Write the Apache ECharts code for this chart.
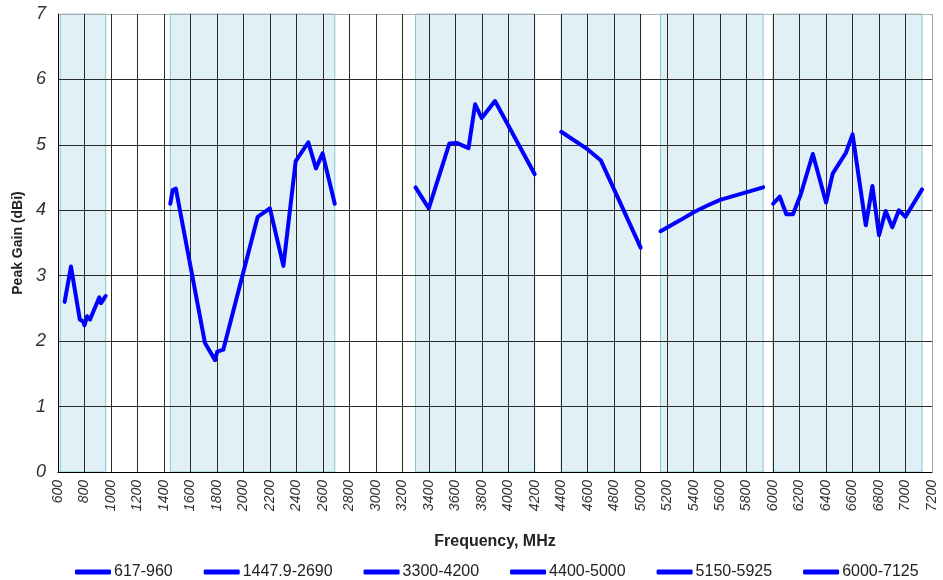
<!DOCTYPE html>
<html>
<head>
<meta charset="utf-8">
<script src="https://cdn.jsdelivr.net/npm/echarts@6/dist/echarts.min.js"></script>
<style>html,body{margin:0;padding:0;background:#fff}#c{width:943px;height:580px}</style>
</head>
<body>
<div id="c"></div>
<script>
// Band names (legend) and their frequency ranges (MHz)
var bandNames = ['617-960', '1447.9-2690', '3300-4200', '4400-5000', '5150-5925', '6000-7125'];
var bandRanges = [[617, 960], [1447.9, 2690], [3300, 4200], [4400, 5000], [5150, 5925], [6000, 7125]];

// Peak gain (dBi) per band, [frequency MHz, gain]
var band617 = [[650,2.6],[698,3.14],[765,2.33],[790,2.3],[800,2.24],[820,2.38],[842,2.33],[912,2.67],[925,2.58],[960,2.69]];
var band1448 = [[1448,4.1],[1466,4.31],[1490,4.33],[1710,1.97],[1786,1.71],[1803,1.84],[1848,1.87],[2108,3.9],[2200,4.03],[2302,3.15],[2395,4.75],[2490,5.04],[2548,4.64],[2598,4.87],[2690,4.1]];
var band3300 = [[3300,4.35],[3400,4.03],[3555,5.02],[3610,5.03],[3700,4.95],[3750,5.62],[3800,5.41],[3900,5.67],[4200,4.55]];
var band4400 = [[4400,5.2],[4600,4.93],[4700,4.76],[5000,3.43]];
var band5150 = [[5150,3.68],[5300,3.85],[5400,3.97],[5500,4.07],[5600,4.16],[5925,4.35]];
var band6000 = [[6000,4.1],[6050,4.21],[6100,3.94],[6150,3.94],[6210,4.25],[6300,4.86],[6400,4.12],[6450,4.56],[6550,4.88],[6600,5.16],[6700,3.77],[6750,4.37],[6800,3.62],[6850,3.99],[6900,3.74],[6950,4.0],[7000,3.9],[7125,4.32]];
var bandData = [band617, band1448, band3300, band4400, band5150, band6000];

var FONT = 'Liberation Sans, Arial, sans-serif';
var chart = echarts.init(document.getElementById('c'), null, {renderer: 'canvas'});

var xLineColors = [];
for (var i = 0; i < 34; i++) xLineColors.push(i === 33 ? '#a0a0a0' : '#2b2b2b');
var yLineColors = ['#2b2b2b','#2b2b2b','#2b2b2b','#2b2b2b','#2b2b2b','#2b2b2b','#2b2b2b','#b0b0b0'];

var series = [{
  type: 'line', data: [], z: -1, silent: true,
  markArea: {
    silent: true, z: -1,
    itemStyle: {color: '#e1f0f5', borderColor: '#86c6d6', borderWidth: 1},
    data: bandRanges.map(function (r) { return [{xAxis: r[0]}, {xAxis: r[1]}]; })
  }
}];
bandNames.forEach(function (n, i) {
  series.push({
    name: n, type: 'line', data: bandData[i], showSymbol: false, symbol: 'none',
    lineStyle: {color: '#0000ff', width: 4, cap: 'round', join: 'round'},
    itemStyle: {color: '#0000ff'}, z: 3, animation: false
  });
});

chart.setOption({
  animation: false,
  grid: {left: 58, right: 11, top: 14, bottom: 108},
  legend: {
    top: 559, left: 70, data: bandNames,
    icon: 'roundRect', itemWidth: 36, itemHeight: 5, itemGap: 31,
    textStyle: {fontFamily: FONT, fontSize: 16, color: '#222', padding: [0, 0, 0, -2]}
  },
  xAxis: {
    type: 'value', min: 600, max: 7200, interval: 200,
    name: 'Frequency, MHz', nameLocation: 'middle', nameGap: 62,
    nameTextStyle: {fontFamily: FONT, fontSize: 16, fontWeight: 'bold', color: '#222'},
    axisLine: {show: true, lineStyle: {color: '#000', width: 1}},
    axisTick: {show: false},
    axisLabel: {rotate: 90, fontFamily: FONT, fontSize: 14, fontStyle: 'italic', color: '#333', margin: 8,
      formatter: function (v) { return String(v); }},
    splitLine: {show: true, lineStyle: {color: xLineColors, width: 1}}
  },
  yAxis: {
    type: 'value', min: 0, max: 7, interval: 1,
    name: 'Peak Gain (dBi)', nameLocation: 'middle', nameGap: 27,
    nameTextStyle: {fontFamily: FONT, fontSize: 14, fontWeight: 'bold', color: '#222'},
    axisLine: {show: true, lineStyle: {color: '#000', width: 1}},
    axisTick: {show: false},
    axisLabel: {fontFamily: FONT, fontSize: 18, fontStyle: 'italic', color: '#333', margin: 12},
    splitLine: {show: true, lineStyle: {color: yLineColors, width: 1}}
  },
  series: series
});
</script>
</body>
</html>
